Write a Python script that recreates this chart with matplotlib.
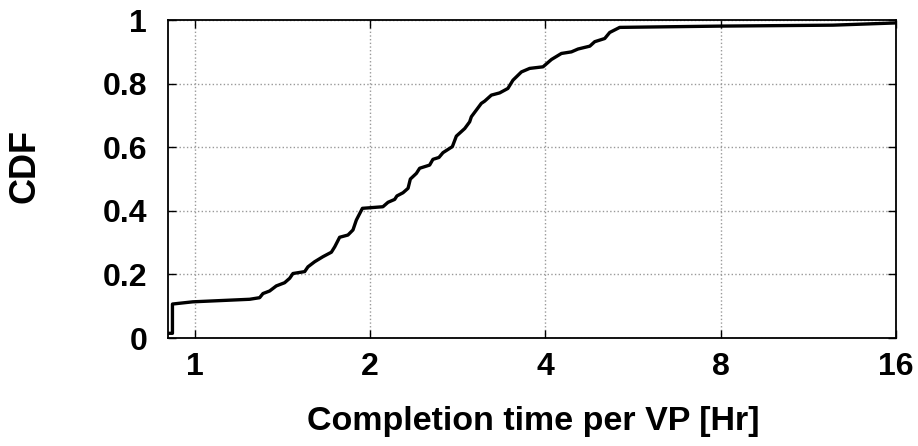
import matplotlib
matplotlib.use("Agg")
import matplotlib.pyplot as plt
from matplotlib.ticker import FixedLocator, NullLocator

# completion time per VP (hours) and CDF
hours = [0.90, 0.916, 0.916, 0.993, 1.243, 1.293, 1.31, 1.345, 1.381, 1.427, 1.456,
         1.475, 1.545, 1.565, 1.607, 1.661, 1.717, 1.74, 1.774, 1.833, 1.87, 1.895,
         1.941, 2.105, 2.148, 2.205, 2.225, 2.279, 2.325, 2.346, 2.403, 2.434, 2.532,
         2.565, 2.627, 2.669, 2.77, 2.814, 2.909, 2.966, 2.986, 3.106, 3.147, 3.232,
         3.34, 3.45, 3.52, 3.64, 3.76, 3.964, 4.098, 4.263, 4.435, 4.553, 4.77,
         4.863, 5.059, 5.16, 5.368, 7.97, 12.47, 16.0]
cdf = [0.015, 0.015, 0.107, 0.114, 0.122, 0.127, 0.14, 0.148, 0.164, 0.174, 0.188,
       0.203, 0.209, 0.224, 0.24, 0.256, 0.27, 0.287, 0.317, 0.324, 0.34, 0.371,
       0.408, 0.413, 0.427, 0.436, 0.447, 0.457, 0.471, 0.5, 0.518, 0.534, 0.544,
       0.562, 0.568, 0.583, 0.602, 0.635, 0.659, 0.68, 0.696, 0.738, 0.745, 0.764,
       0.771, 0.785, 0.811, 0.837, 0.848, 0.853, 0.876, 0.895, 0.9, 0.909, 0.918,
       0.932, 0.942, 0.961, 0.977, 0.981, 0.984, 0.991]

x_ticks = [1, 2, 4, 8, 16]
y_ticks = [0, 0.2, 0.4, 0.6, 0.8, 1]
y_labels = ["0", "0.2", "0.4", "0.6", "0.8", "1"]

plt.rcParams["font.family"] = ["Liberation Sans", "DejaVu Sans"]
plt.rcParams["font.weight"] = "bold"

fig = plt.figure(figsize=(9.18, 4.46), dpi=100)
ax = fig.add_axes([0.183, 0.242, 0.793, 0.713])

ax.plot(hours, cdf, color="black", linewidth=2.4)

ax.set_xscale("log", base=2)
ax.set_xlim(0.9, 16)
ax.set_ylim(0, 1)
ax.xaxis.set_major_locator(FixedLocator(x_ticks))
ax.xaxis.set_minor_locator(NullLocator())
ax.set_xticks(x_ticks)
ax.set_xticklabels([str(t) for t in x_ticks])
ax.set_yticks(y_ticks)
ax.set_yticklabels(y_labels)

ax.grid(True, linestyle=":", color="#999999", linewidth=1.0)
ax.tick_params(direction="in", length=6, width=1, labelsize=23,
               top=True, right=True)
ax.tick_params(axis="x", pad=10)
ax.tick_params(axis="y", pad=15)
for s in ax.spines.values():
    s.set_linewidth(1.3)

fig.text(533 / 918, 1 - 430 / 446, "Completion time per VP [Hr]",
         fontsize=24.5, fontweight="bold", ha="center", va="baseline")
fig.text(25 / 918, 1 - 166 / 446, "CDF", fontsize=26, fontweight="bold",
         rotation=90, ha="center", va="center")

fig.savefig("out.png", dpi=100)
